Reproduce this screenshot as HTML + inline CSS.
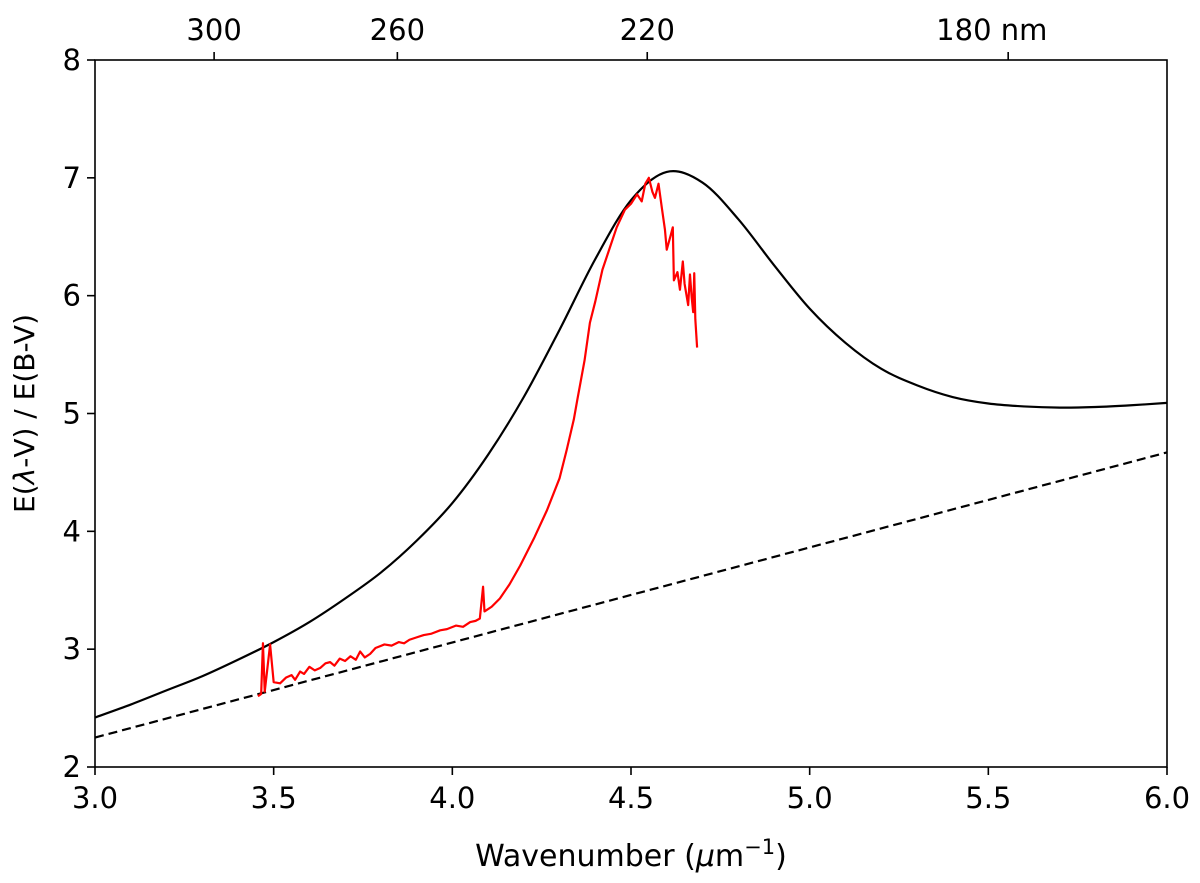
<!DOCTYPE html>
<html><head><meta charset="utf-8"><style>
html,body{margin:0;padding:0;background:#fff;}
svg{display:block;font-family:"DejaVu Sans","Liberation Sans",sans-serif;}
</style></head><body>
<svg id="chart" width="1200" height="883"></svg>
<script>
const modelX=[3.0,3.1,3.2,3.3,3.4,3.5,3.6,3.7,3.8,3.9,4.0,4.1,4.2,4.3,4.4,4.5,4.6,4.7,4.8,4.9,5.0,5.1,5.2,5.3,5.4,5.5,5.6,5.7,5.8,5.9,6.0];
const modelY=[2.42,2.53,2.65,2.77,2.91,3.06,3.23,3.43,3.65,3.92,4.24,4.65,5.14,5.71,6.31,6.81,7.05,6.96,6.65,6.26,5.89,5.60,5.38,5.24,5.14,5.085,5.06,5.05,5.055,5.07,5.09];
const baseX=[3.0,6.0];
const baseY=[2.25,4.67];
const obsX=[3.456,3.465,3.47,3.475,3.49,3.50,3.518,3.535,3.55,3.56,3.574,3.585,3.60,3.615,3.63,3.645,3.658,3.67,3.685,3.70,3.715,3.73,3.742,3.755,3.77,3.785,3.81,3.83,3.85,3.865,3.88,3.9,3.92,3.94,3.966,3.985,4.01,4.03,4.05,4.065,4.077,4.086,4.09,4.11,4.133,4.16,4.19,4.23,4.265,4.3,4.32,4.34,4.35,4.37,4.385,4.4,4.42,4.44,4.46,4.483,4.5,4.517,4.53,4.54,4.55,4.56,4.567,4.577,4.587,4.595,4.60,4.61,4.617,4.62,4.63,4.637,4.645,4.65,4.66,4.665,4.67,4.674,4.677,4.68,4.685];
const obsY=[2.60,2.62,3.05,2.64,3.04,2.72,2.71,2.76,2.78,2.74,2.81,2.79,2.85,2.82,2.84,2.88,2.89,2.86,2.92,2.90,2.94,2.91,2.98,2.93,2.96,3.01,3.04,3.03,3.06,3.05,3.08,3.10,3.12,3.13,3.16,3.17,3.20,3.19,3.23,3.24,3.26,3.53,3.32,3.36,3.43,3.55,3.71,3.95,4.18,4.45,4.69,4.95,5.12,5.45,5.77,5.95,6.22,6.40,6.58,6.73,6.78,6.86,6.80,6.95,7.00,6.88,6.83,6.95,6.73,6.56,6.39,6.50,6.58,6.13,6.20,6.05,6.29,6.10,5.92,6.18,5.98,5.86,6.19,5.80,5.56];
const xTicks=[3.0,3.5,4.0,4.5,5.0,5.5,6.0];
const yTicks=[2,3,4,5,6,7,8];
const topTicks=[300,260,220,180];
const topLabels=["300","260","220","180 nm"];

const L=95,R=1167,T=60,B=767;
const sx=v=>L+(v-3)/(6-3)*(R-L);
const sy=v=>B-(v-2)/(8-2)*(B-T);
const NS="http://www.w3.org/2000/svg";
const svg=document.getElementById('chart');
function mk(tag,attrs,parent){const e=document.createElementNS(NS,tag);for(const k in attrs)e.setAttribute(k,attrs[k]);(parent||svg).appendChild(e);return e;}

function smooth(xs,ys){
  const p=xs.map((x,i)=>[sx(x),sy(ys[i])]);
  let d=`M${p[0][0]},${p[0][1]}`;
  for(let i=0;i<p.length-1;i++){
    const p0=p[i-1]||p[i],p1=p[i],p2=p[i+1],p3=p[i+2]||p2;
    const c1=[p1[0]+(p2[0]-p0[0])/6,p1[1]+(p2[1]-p0[1])/6];
    const c2=[p2[0]-(p3[0]-p1[0])/6,p2[1]-(p3[1]-p1[1])/6];
    d+=`C${c1[0]},${c1[1]} ${c2[0]},${c2[1]} ${p2[0]},${p2[1]}`;
  }
  return d;
}
const clip=mk('clipPath',{id:'pc'});mk('rect',{x:L,y:T,width:R-L,height:B-T},clip);

const m=mk('path',{d:smooth(modelX,modelY),fill:'none',stroke:'#000','stroke-width':2.2,'clip-path':'url(#pc)'});

const b=mk('path',{d:`M${sx(baseX[0])},${sy(baseY[0])}L${sx(baseX[1])},${sy(baseY[1])}`,fill:'none',stroke:'#000','stroke-width':2.2,'stroke-dasharray':'9,5'});

const o=mk('path',{d:obsX.map((x,i)=>(i?'L':'M')+sx(x)+','+sy(obsY[i])).join(''),fill:'none',stroke:'#ff0000','stroke-width':2.2,'stroke-linejoin':'round'});


const fr=mk('rect',{x:L,y:T,width:R-L,height:B-T,fill:'none',stroke:'#000','stroke-width':1.6});


xTicks.forEach(v=>{
  mk('line',{x1:sx(v),x2:sx(v),y1:B,y2:B+8,stroke:'#000','stroke-width':1.6});
  const t=mk('text',{x:sx(v),y:B+41,'text-anchor':'middle','font-size':29});t.textContent=v.toFixed(1);
  
});
yTicks.forEach(v=>{
  mk('line',{x1:L-8,x2:L,y1:sy(v),y2:sy(v),stroke:'#000','stroke-width':1.6});
  const t=mk('text',{x:L-14,y:sy(v)+10,'text-anchor':'end','font-size':29});t.textContent=v;
  
});
topTicks.forEach((nm,i)=>{
  const x=sx(1000/nm);
  mk('line',{x1:x,x2:x,y1:T-8,y2:T,stroke:'#000','stroke-width':1.6});
  const t=mk('text',{x:x,y:T-20,'text-anchor':'middle','font-size':29});t.textContent=topLabels[i];
  if(i===3){t.setAttribute('text-anchor','start');t.setAttribute('x',x-72);}
  
});
const xl=mk('text',{x:(L+R)/2,y:866,'text-anchor':'middle','font-size':30});
xl.innerHTML='Wavenumber (<tspan font-style="italic">μ</tspan>m<tspan dy="-12" font-size="21">−1</tspan><tspan dy="12">)</tspan>';

const yl=mk('text',{x:0,y:0,'text-anchor':'middle','font-size':28,transform:`translate(34,${(T+B)/2}) rotate(-90)`});
yl.innerHTML='E(<tspan font-style="italic">λ</tspan>-V) / E(B-V)';

</script>
</body></html>
